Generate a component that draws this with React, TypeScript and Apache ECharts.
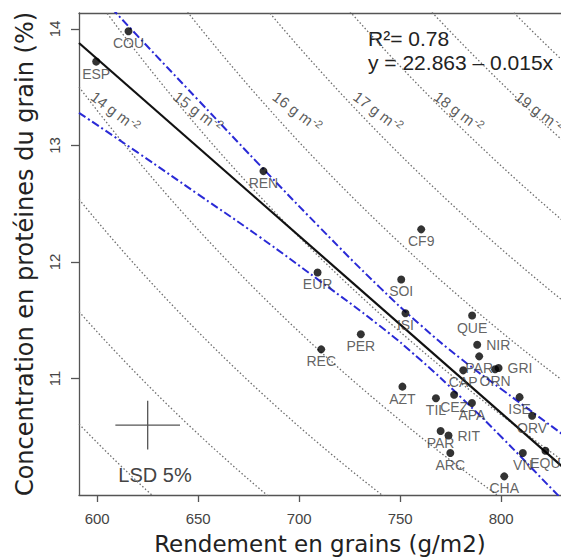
import React, { useEffect, useRef } from "react";
import * as echarts from "echarts";

// ---- data ----
const varieties = ["COU", "ESP", "REN", "CF9", "EUR", "SOI", "ISI", "PER", "REC", "AZT", "QUE", "NIR", "PAR", "CAP", "ORN", "GRI", "TIL", "CEZ", "APA", "ISE", "ORV", "PAR", "RIT", "ARC", "VN", "EQU", "CHA"];
const yieldGm2 = [615.5, 599.5, 682.3, 760.4, 709.1, 750.5, 752.6, 730.5, 710.9, 751.1, 785.6, 788.1, 789.1, 781.2, 797.0, 798.7, 767.7, 776.7, 785.5, 809.1, 815.3, 770.0, 773.9, 774.8, 810.7, 821.9, 801.5];
const proteinPct = [13.98, 13.72, 12.78, 12.28, 11.91, 11.85, 11.56, 11.38, 11.25, 10.93, 11.54, 11.29, 11.19, 11.07, 11.08, 11.09, 10.83, 10.86, 10.79, 10.84, 10.68, 10.55, 10.51, 10.36, 10.36, 10.38, 10.16];
const labelSide = ["bottom", "bottom", "bottom", "bottom", "bottom", "bottom", "bottom", "bottom", "bottom", "bottom", "bottom", "right", "bottom", "bottom", "bottom", "right", "bottom", "bottom", "bottom", "bottom", "bottom", "bottom", "right", "bottom", "bottom", "bottom", "bottom"];

// regression
const regIntercept = 22.863;
const regSlope = -0.0152;
const regXRange = [591, 840];

// 95% confidence band
const bandX = [591, 620, 650, 680, 710, 740, 760, 780, 800, 832, 840];
const bandUpper = [14.48, 13.94, 13.39, 12.84, 12.3, 11.78, 11.46, 11.17, 10.91, 10.5, 10.4];
const bandLower = [13.28, 12.94, 12.58, 12.22, 11.84, 11.45, 11.16, 10.84, 10.5, 9.93, 9.8];

// iso-nitrogen lines (g N m-2): protein% = 570 * N / yield
const isoN = [11, 12, 13, 14, 15, 16, 17, 18, 19, 20];
const isoFactor = 570;
const isoLabelN = [14, 15, 16, 17, 18, 19];
const isoLabelX = [609, 650, 699, 739, 779, 819];
const isoLabelY = [13.29, 13.29, 13.29, 13.29, 13.29, 13.29];

// LSD 5%
const lsdCenter = [625, 10.6];
const lsdYield = 32;
const lsdProtein = 0.42;

// axes
const xTicks = [600, 650, 700, 750, 800];
const yTicks = [11, 12, 13, 14];
const xMin = 591, xMax = 829.6, yMin = 10, yMax = 14.137;

const R2Text = "R\u00b2= 0.78";
const eqText = "y = 22.863 \u2013 0.015x";

const labelFont = "'Liberation Sans', Arial, sans-serif";
const titleFont = "'DejaVu Sans', sans-serif";
const axisColor = "#555";

export default function App() {
  const ref = useRef<HTMLDivElement>(null);
  useEffect(() => {
    if (!ref.current) return;
    const chart = echarts.init(ref.current, null, { renderer: "svg" });

    const samples: number[] = [];
    for (let x = xMin; x <= xMax + 6; x += 3) samples.push(x);

    const isoSeries = isoN.map((n) => ({
      type: "line",
      silent: true,
      showSymbol: false,
      clip: true,
      data: samples.map((x) => [x, (isoFactor * n) / x]),
      lineStyle: { color: "#6e6e6e", width: 1.3, type: [1.5, 2.2] },
      z: 1,
    }));

    const bandStyle = { color: "#2a2ad6", width: 2, type: [8, 3, 2, 3] };

    const option: any = {
      animation: false,
      backgroundColor: "#fff",
      grid: { left: 79, top: 13, right: 0, height: 484, show: false },
      xAxis: [
        {
          type: "value",
          min: xMin,
          max: xMax,
          name: "Rendement en grains (g/m2)",
          nameLocation: "middle",
          nameGap: 37,
          nameTextStyle: { fontSize: 23, color: "#222", fontFamily: titleFont },
          axisLine: { show: true, lineStyle: { color: axisColor, width: 1.3 } },
          axisTick: { show: true, length: 7, customValues: xTicks, lineStyle: { color: axisColor, width: 1.3 } },
          axisLabel: { customValues: xTicks, fontSize: 15, color: "#444", margin: 16, fontFamily: labelFont },
          splitLine: { show: false },
        },
        {
          type: "value",
          position: "top",
          min: xMin,
          max: xMax,
          axisLine: { show: true, onZero: false, lineStyle: { color: axisColor, width: 1.3 } },
          axisTick: { show: false },
          axisLabel: { show: false },
          splitLine: { show: false },
        },
      ],
      yAxis: {
        type: "value",
        min: yMin,
        max: yMax,
        name: "Concentration en protéines du grain (%)",
        nameLocation: "middle",
        nameGap: 42,
        nameTextStyle: { fontSize: 24, color: "#222", fontFamily: titleFont },
        axisLine: { show: true, lineStyle: { color: axisColor, width: 1.3 } },
        axisTick: { show: true, length: 8, customValues: yTicks, lineStyle: { color: axisColor, width: 1.3 } },
        axisLabel: { customValues: yTicks, fontSize: 15, color: "#444", margin: 17, rotate: 90, fontFamily: labelFont },
        splitLine: { show: false },
      },
      series: [
        ...isoSeries,
        {
          type: "line",
          silent: true,
          showSymbol: false,
          smooth: true,
          data: bandX.map((x, i) => [x, bandUpper[i]]),
          lineStyle: bandStyle,
          z: 2,
        },
        {
          type: "line",
          silent: true,
          showSymbol: false,
          smooth: true,
          data: bandX.map((x, i) => [x, bandLower[i]]),
          lineStyle: bandStyle,
          z: 2,
        },
        {
          type: "line",
          silent: true,
          showSymbol: false,
          data: regXRange.map((x) => [x, regIntercept + regSlope * x]),
          lineStyle: { color: "#111", width: 2.2 },
          z: 3,
        },
        {
          type: "line",
          silent: true,
          showSymbol: false,
          data: [
            [lsdCenter[0] - lsdYield / 2, lsdCenter[1]],
            [lsdCenter[0] + lsdYield / 2, lsdCenter[1]],
          ],
          lineStyle: { color: axisColor, width: 1.3 },
        },
        {
          type: "line",
          silent: true,
          showSymbol: false,
          data: [
            [lsdCenter[0], lsdCenter[1] - lsdProtein / 2],
            [lsdCenter[0], lsdCenter[1] + lsdProtein / 2],
          ],
          lineStyle: { color: axisColor, width: 1.3 },
        },
        {
          type: "scatter",
          silent: true,
          symbolSize: 0,
          data: isoLabelN.map((n, i) => ({ value: [isoLabelX[i], isoLabelY[i]], name: String(n) })),
          label: {
            show: true,
            position: "inside",
            rotate: -37,
            color: "#333",
            fontSize: 15,
            fontFamily: labelFont,
            formatter: (p: any) => `${p.name} g m{sup|-2}`,
            rich: { sup: { fontSize: 11, color: "#333", fontFamily: labelFont, padding: [0, 0, 7, 1] } },
          },
          z: 4,
        },
        {
          type: "scatter",
          silent: true,
          symbolSize: 8,
          itemStyle: { color: "#000" },
          data: varieties.map((v, i) => ({
            value: [yieldGm2[i], proteinPct[i]],
            name: v,
            label: { position: labelSide[i], distance: labelSide[i] === "right" ? 5 : 1 },
          })),
          label: {
            show: true,
            formatter: "{b}",
            fontSize: 14,
            color: "#3a3a3a",
            fontFamily: labelFont,
          },
          z: 5,
        },
      ],
      graphic: [
        {
          type: "text",
          x: 368,
          y: 38,
          style: { text: R2Text, fontSize: 21, fill: "#222", fontFamily: labelFont, verticalAlign: "middle" },
        },
        {
          type: "text",
          x: 368,
          y: 62,
          style: { text: eqText, fontSize: 21, fill: "#222", fontFamily: labelFont, verticalAlign: "middle" },
        },
        {
          type: "text",
          x: 155,
          y: 475,
          style: { text: "LSD 5%", fontSize: 20, fill: "#444", fontFamily: labelFont, align: "center", verticalAlign: "middle" },
        },
      ],
    };
    chart.setOption(option);
    return () => chart.dispose();
  }, []);
  return <div ref={ref} style={{ position: "fixed", left: 0, top: 0, width: 561, height: 560, background: "#fff" }} />;
}
